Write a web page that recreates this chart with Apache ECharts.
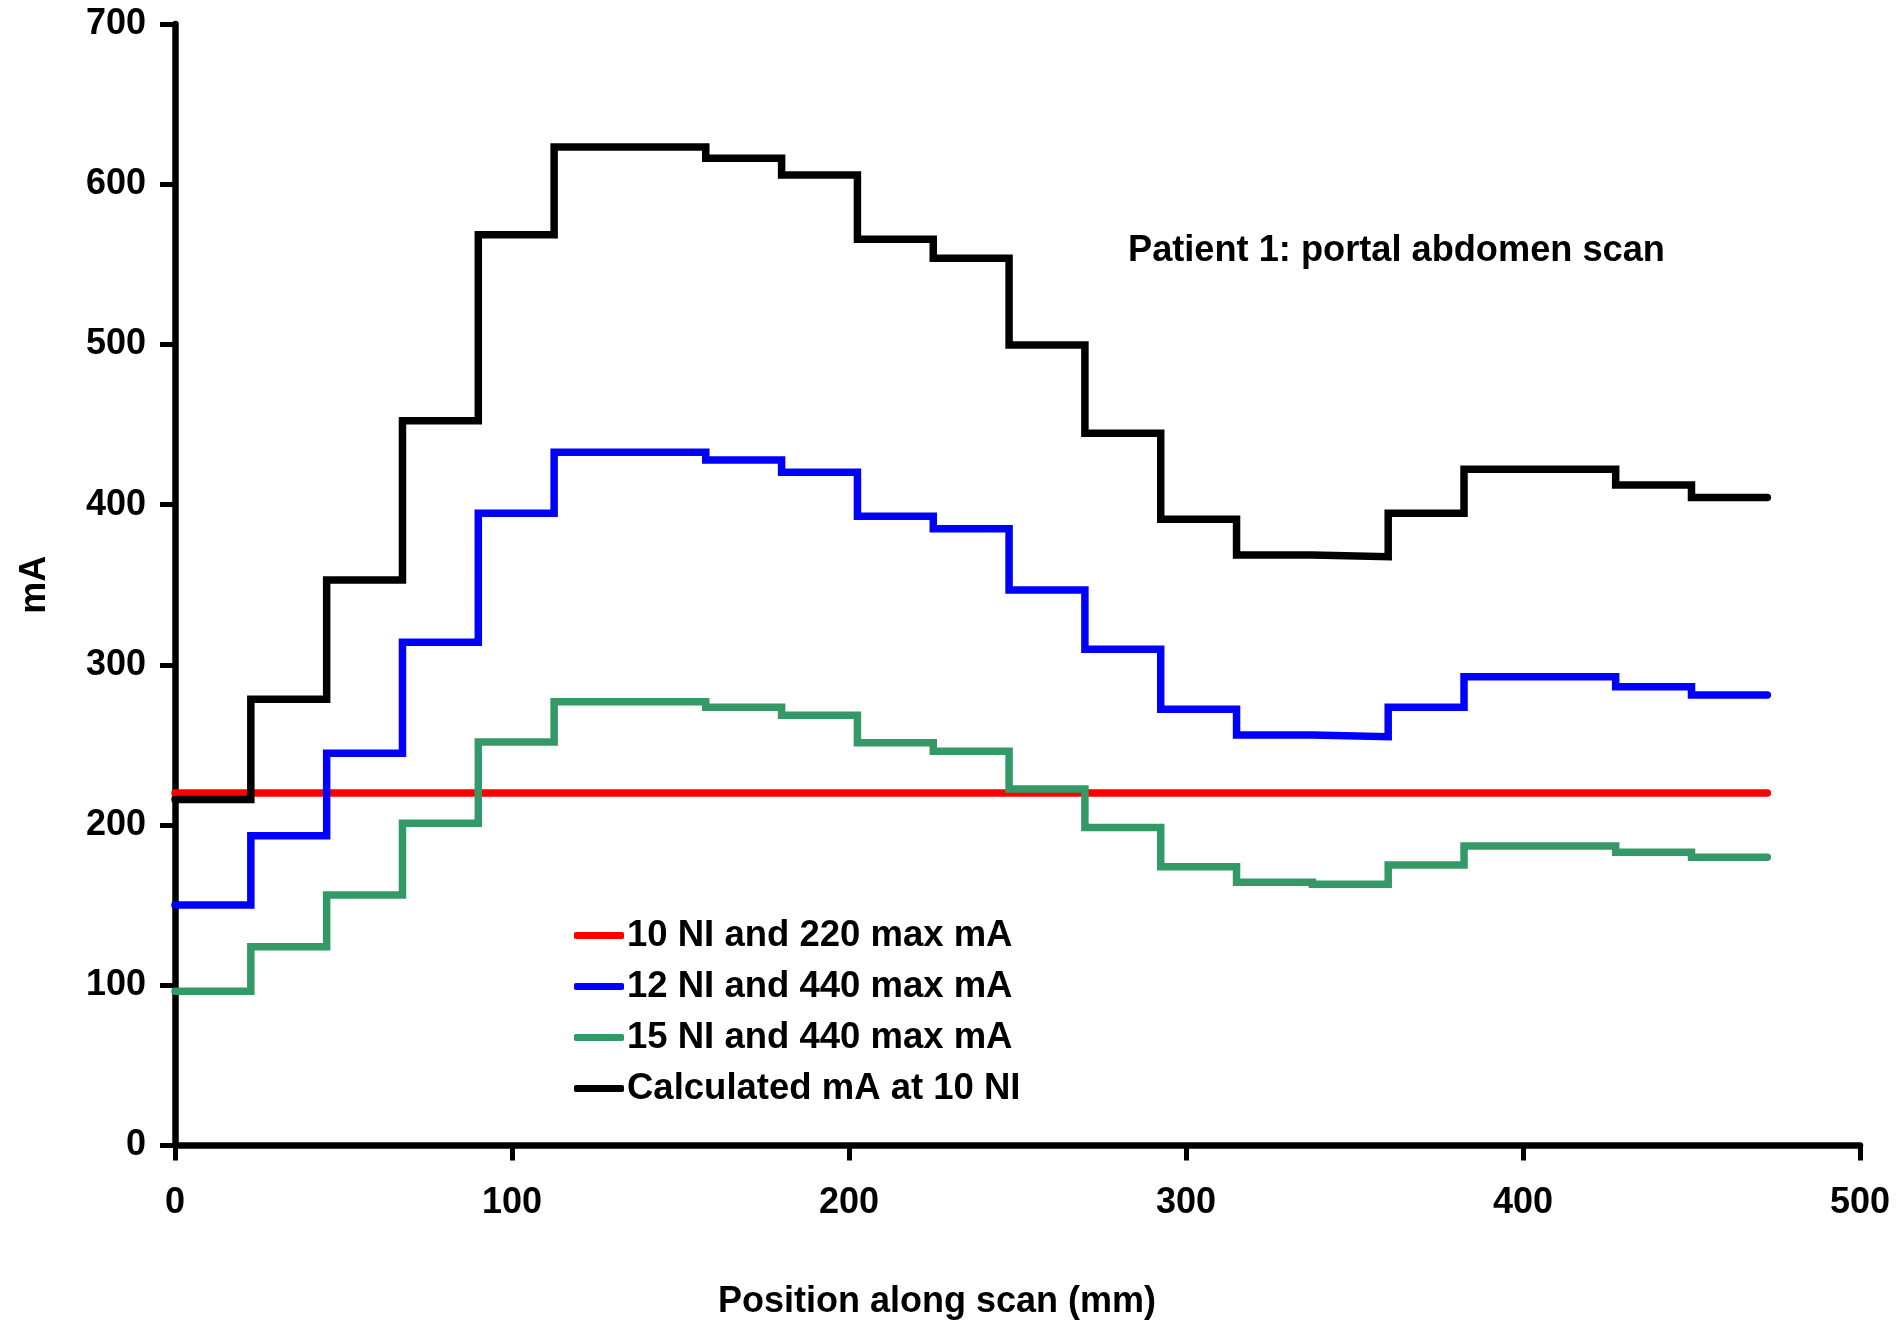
<!DOCTYPE html>
<html>
<head>
<meta charset="utf-8">
<title>Patient 1: portal abdomen scan</title>
<script src="https://cdn.jsdelivr.net/npm/echarts@6/dist/echarts.min.js"></script>
<style>
  html, body { margin: 0; padding: 0; background: #ffffff; }
  #chart { width: 1897px; height: 1321px; }
</style>
</head>
<body>
<div id="chart"></div>
<script>
// Start of each tube-current step along the scan (mm); the last step ends at scanEnd.
const stepStarts = [0, 22.5, 45, 67.5, 90, 112.5, 135, 157.5, 180, 202.5, 225,
                    247.5, 270, 292.5, 315, 337.5, 360, 382.5, 405, 427.5, 450];
const scanEnd = 472.5;

// mA per step for each setting
const fixedMax220 = 220;
const ni12max440 = [150.1, 193.4, 244.8, 314.1, 394.6, 432.7, 432.7, 427.9, 420.2, 392.8, 385.0,
                    346.7, 309.7, 272.3, 256.2, 255.2, 273.5, 292.6, 292.6, 286.4, 281.2];
const ni15max440 = [96.2, 124.1, 156.4, 201.1, 251.8, 277.0, 277.0, 273.5, 268.5, 251.4, 246.0,
                    222.5, 198.5, 174.0, 164.3, 163.0, 175.1, 186.9, 186.9, 183.0, 179.9];
const calcAt10NI = [216.0, 278.5, 353.0, 452.4, 568.5, 623.2, 623.2, 616.2, 605.8, 565.6, 553.8,
                    499.7, 444.6, 390.9, 368.6, 367.5, 394.6, 422.1, 422.1, 412.3, 404.5];

const seriesNames = ['10 NI and 220 max mA', '12 NI and 440 max mA',
                     '15 NI and 440 max mA', 'Calculated mA at 10 NI'];
const seriesColors = ['#ff0000', '#0000ff', '#339966', '#000000'];

const xTicks = { min: 0, max: 500, interval: 100 };
const yTicks = { min: 0, max: 700, interval: 100 };

// Turn per-step values into [x, y] points; the last step is closed at scanEnd.
function stepPoints(values) {
  const pts = stepStarts.map((x, i) => [x, values[i]]);
  pts.push([scanEnd, values[values.length - 1]]);
  return pts;
}

const FONT = "'Liberation Sans', Arial, Helvetica, sans-serif";
const txt = { fontFamily: FONT, fontWeight: 'bold', fontSize: 36, color: '#000' };

const lineData = [
  [[0, fixedMax220], [scanEnd, fixedMax220]],
  stepPoints(ni12max440),
  stepPoints(ni15max440),
  stepPoints(calcAt10NI)
];

const chart = echarts.init(document.getElementById('chart'), null, { renderer: 'canvas' });

chart.setOption({
  animation: false,
  backgroundColor: '#ffffff',
  textStyle: { fontFamily: FONT },
  title: {
    text: 'Patient 1: portal abdomen scan',
    left: 1128,
    top: 233,
    padding: 0,
    textStyle: Object.assign({}, txt, { fontSize: 36.2 })
  },
  legend: {
    orient: 'vertical',
    left: 574,
    top: 917,
    padding: 0,
    icon: 'roundRect',
    itemWidth: 50,
    itemHeight: 7,
    itemGap: 14,
    data: seriesNames,
    textStyle: Object.assign({}, txt, { lineHeight: 36, fontSize: 36.5, padding: [0, 0, 0, -2] })
  },
  grid: { left: 175, right: 37, top: 24, bottom: 175.5, containLabel: false },
  xAxis: {
    type: 'value',
    min: xTicks.min,
    max: xTicks.max,
    interval: xTicks.interval,
    axisLine: { show: true, onZero: false, lineStyle: { color: '#000', width: 6.5 } },
    axisTick: { show: true, inside: false, length: 15, lineStyle: { color: '#000', width: 5 } },
    axisLabel: Object.assign({ margin: 40 }, txt),
    splitLine: { show: false }
  },
  yAxis: {
    type: 'value',
    min: yTicks.min,
    max: yTicks.max,
    interval: yTicks.interval,
    name: 'mA',
    nameLocation: 'middle',
    nameRotate: 90,
    nameGap: 122,
    nameTextStyle: Object.assign({}, txt),
    axisLine: { show: true, onZero: false, lineStyle: { color: '#000', width: 6.5 } },
    axisTick: { show: true, inside: false, length: 15, lineStyle: { color: '#000', width: 5 } },
    axisLabel: Object.assign({ margin: 29 }, txt),
    splitLine: { show: false }
  },
  graphic: [{
    type: 'text',
    style: {
      text: 'Position along scan (mm)',
      x: 937,
      y: 1302.5,
      align: 'center',
      verticalAlign: 'middle',
      font: "bold 36px 'Liberation Sans', Arial, Helvetica, sans-serif",
      fill: '#000'
    }
  }],
  series: seriesNames.map((name, i) => ({
    name: name,
    type: 'line',
    step: i === 0 ? false : 'end',
    data: lineData[i],
    showSymbol: false,
    symbol: 'none',
    z: 2 + i,
    color: seriesColors[i],
    itemStyle: { color: seriesColors[i] },
    lineStyle: { color: seriesColors[i], width: 7.5, cap: 'round', join: 'miter' }
  }))
});
</script>
</body>
</html>
